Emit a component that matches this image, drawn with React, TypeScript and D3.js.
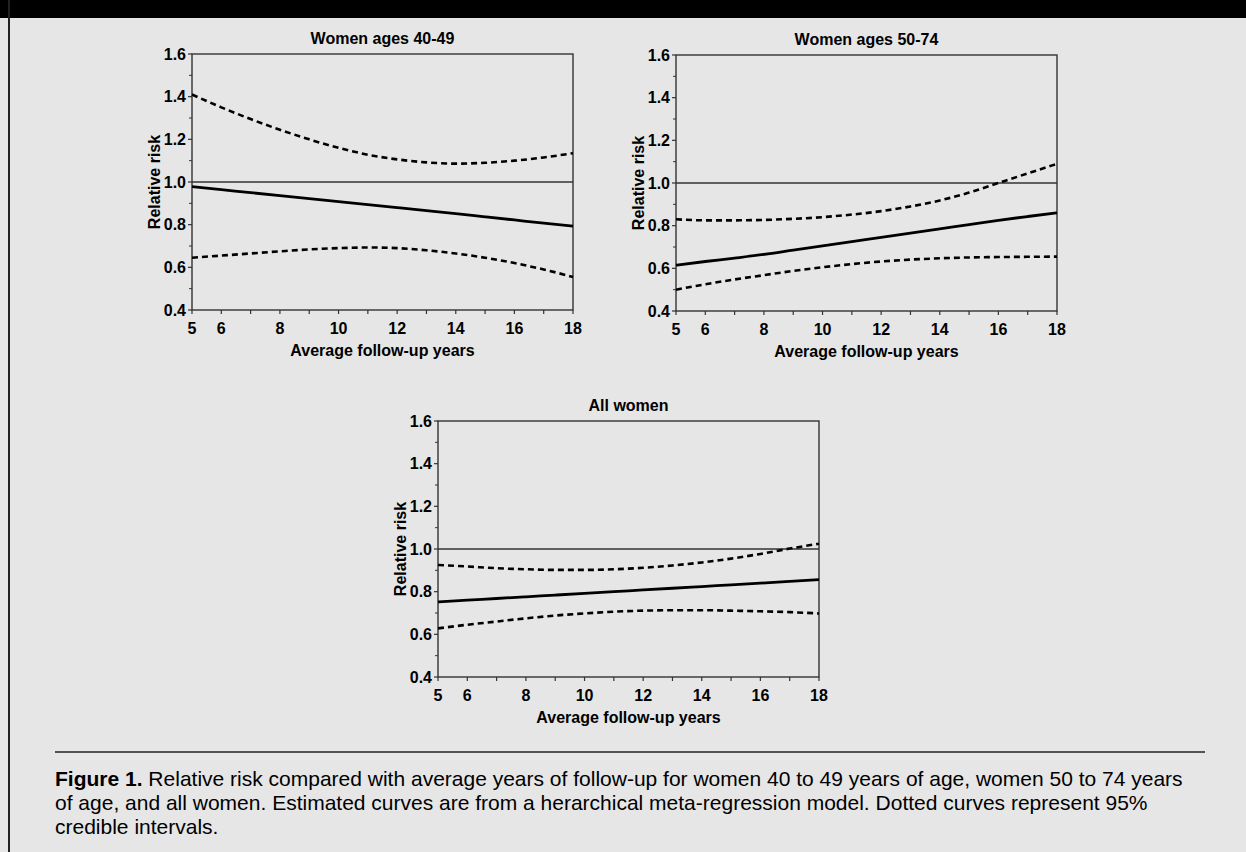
import React from 'react';
import * as d3 from 'd3';

// follow-up years sampled along each curve
const years = [5, 6, 7, 8, 9, 10, 11, 12, 13, 14, 15, 16, 17, 18];
const xTicks = [5, 6, 8, 10, 12, 14, 16, 18];
const yTicks = [0.4, 0.6, 0.8, 1.0, 1.2, 1.4, 1.6];
const yMinor = [0.5, 0.7, 0.9, 1.1, 1.3, 1.5];

const titles = ['Women ages 40-49', 'Women ages 50-74', 'All women'];

// women 40-49
const young = [0.978, 0.964, 0.950, 0.936, 0.922, 0.908, 0.894, 0.880, 0.866, 0.852, 0.837, 0.822, 0.807, 0.793];
const youngHi = [1.41, 1.35, 1.295, 1.245, 1.2, 1.16, 1.128, 1.106, 1.092, 1.086, 1.09, 1.1, 1.115, 1.135];
const youngLo = [0.645, 0.655, 0.665, 0.675, 0.684, 0.69, 0.693, 0.69, 0.68, 0.665, 0.645, 0.62, 0.59, 0.555];

// women 50-74
const older = [0.615, 0.632, 0.648, 0.665, 0.685, 0.705, 0.725, 0.745, 0.765, 0.785, 0.805, 0.825, 0.843, 0.86];
const olderHi = [0.83, 0.825, 0.825, 0.827, 0.832, 0.84, 0.852, 0.868, 0.89, 0.918, 0.955, 1.0, 1.045, 1.09];
const olderLo = [0.5, 0.525, 0.548, 0.568, 0.588, 0.605, 0.62, 0.632, 0.641, 0.647, 0.651, 0.653, 0.654, 0.655];

// all women
const all = [0.752, 0.76, 0.768, 0.776, 0.784, 0.792, 0.8, 0.808, 0.816, 0.824, 0.832, 0.84, 0.848, 0.856];
const allHi = [0.925, 0.918, 0.91, 0.905, 0.902, 0.902, 0.905, 0.912, 0.923, 0.937, 0.955, 0.977, 1.002, 1.025];
const allLo = [0.628, 0.645, 0.66, 0.675, 0.688, 0.698, 0.706, 0.711, 0.713, 0.713, 0.711, 0.708, 0.704, 0.698];

const captionLines = [
  ' Relative risk compared with average years of follow-up for women 40 to 49 years of age, women 50 to 74 years',
  'of age, and all women. Estimated curves are from a herarchical meta-regression model. Dotted curves represent 95%',
  'credible intervals.',
];

const FONT = '"Liberation Sans", Arial, Helvetica, sans-serif';
const W = 1246;
const H = 852;

const panels = [
  { title: titles[0], left: 192, top: 54, est: young, hi: youngHi, lo: youngLo },
  { title: titles[1], left: 676, top: 55, est: older, hi: olderHi, lo: olderLo },
  { title: titles[2], left: 438, top: 421, est: all, hi: allHi, lo: allLo },
];
const pw = 381;
const ph = 256;

function Panel({ p }: { p: (typeof panels)[number] }) {
  const x = d3.scaleLinear([5, 18], [p.left, p.left + pw]);
  const y = d3.scaleLinear([0.4, 1.6], [p.top + ph, p.top]);
  const line = d3
    .line<number>()
    .x((_, i) => x(years[i]))
    .y((d) => y(d))
    .curve(d3.curveMonotoneX);
  const bottom = p.top + ph;
  return (
    <g fontFamily={FONT} fontWeight="bold" fill="#000">
      <text x={p.left + pw / 2} y={p.top - 10} fontSize={16} textAnchor="middle">
        {p.title}
      </text>
      <rect x={p.left} y={p.top} width={pw} height={ph} fill="none" stroke="#333" strokeWidth={1.4} />
      <line x1={p.left} x2={p.left + pw} y1={y(1)} y2={y(1)} stroke="#333" strokeWidth={1.3} />
      {yTicks.map((t) => (
        <g key={t}>
          <line x1={p.left - 4} x2={p.left} y1={y(t)} y2={y(t)} stroke="#333" strokeWidth={1.2} />
          <text x={p.left - 6} y={y(t)} dy="0.36em" fontSize={16} textAnchor="end">
            {t.toFixed(1)}
          </text>
        </g>
      ))}
      {yMinor.map((t) => (
        <line key={t} x1={p.left - 3} x2={p.left} y1={y(t)} y2={y(t)} stroke="#333" strokeWidth={1} />
      ))}
      {years.map((t) => (
        <line key={t} x1={x(t)} x2={x(t)} y1={bottom} y2={bottom + 4} stroke="#333" strokeWidth={1.2} />
      ))}
      {xTicks.map((t) => (
        <text key={t} x={x(t)} y={bottom + 24} fontSize={16} textAnchor="middle">
          {t}
        </text>
      ))}
      <text x={p.left + pw / 2} y={bottom + 46} fontSize={16} textAnchor="middle">
        Average follow-up years
      </text>
      <text
        transform={`translate(${p.left - 32},${p.top + ph / 2}) rotate(-90)`}
        fontSize={16}
        textAnchor="middle"
      >
        Relative risk
      </text>
      <path d={line(p.hi) ?? ''} fill="none" stroke="#000" strokeWidth={2.6} strokeDasharray="6,4" />
      <path d={line(p.lo) ?? ''} fill="none" stroke="#000" strokeWidth={2.6} strokeDasharray="6,4" />
      <path d={line(p.est) ?? ''} fill="none" stroke="#000" strokeWidth={2.8} />
    </g>
  );
}

export default function App() {
  return (
    <div style={{ position: 'absolute', left: 0, top: 0 }}>
      <svg width={W} height={H} viewBox={`0 0 ${W} ${H}`} style={{ display: 'block' }}>
        <rect x={0} y={0} width={W} height={H} fill="#e6e6e6" />
        <rect x={0} y={0} width={W} height={18} fill="#000" />
        <line x1={9} x2={9} y1={0} y2={H} stroke="#222" strokeWidth={2} />
        {panels.map((p) => (
          <Panel key={p.title} p={p} />
        ))}
        <line x1={55} x2={1205} y1={752} y2={752} stroke="#222" strokeWidth={1.5} />
        <g fontFamily={FONT} fontSize={21} fill="#000">
          {captionLines.map((l, i) => (
            <text key={i} x={55} y={786 + i * 24}>
              {i === 0 && <tspan fontWeight="bold">Figure 1.</tspan>}
              {l}
            </text>
          ))}
        </g>
      </svg>
    </div>
  );
}
